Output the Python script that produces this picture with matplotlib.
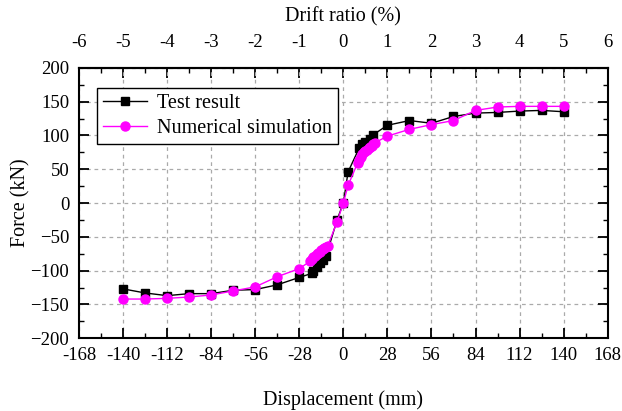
import matplotlib
matplotlib.use("Agg")
import matplotlib.pyplot as plt
from matplotlib.ticker import MultipleLocator

plt.rcParams['font.family'] = ['Liberation Serif', 'DejaVu Serif']

## DATA
test_disp  = [-140, -126, -112, -98, -84, -70, -56, -42, -28, -20, -19, -17, -15, -13, -11,
              -4, 0, 3, 10, 12, 14, 17, 19, 28, 42, 56, 70, 84, 98, 112, 126, 140]
test_force = [-127, -133, -137, -134, -134, -129, -128, -121, -110, -104, -100, -94, -88, -84, -79,
              -25, 0, 46, 81, 87, 90, 95, 101, 115, 122, 118, 128, 133, 134, 136, 137, 135]

sim_disp  = [-140, -126, -112, -98, -84, -70, -56, -42, -28, -21, -20, -19, -18, -17, -16, -15,
             -14, -13, -12, -11, -10, -4, 0, 3, 9, 10, 11, 12, 13, 14, 15, 16, 17, 18, 19, 20,
             28, 42, 56, 70, 84, 98, 112, 126, 140]
sim_force = [-142, -142, -141, -139, -136, -130, -124, -109, -97, -86, -83, -80, -78, -76, -74, -72,
             -70, -68, -67, -65, -64, -28, 0, 26, 59, 64, 68, 72, 75, 77, 79, 81, 83, 85, 87, 89,
             99, 109, 116, 122, 137, 142, 143, 143, 143]

x_ticks     = [-168, -140, -112, -84, -56, -28, 0, 28, 56, 84, 112, 140, 168]
drift_ticks = [-6, -5, -4, -3, -2, -1, 0, 1, 2, 3, 4, 5, 6]
y_ticks     = [-200, -150, -100, -50, 0, 50, 100, 150, 200]

MM_PER_PERCENT = 28

fig = plt.figure(figsize=(6.22, 4.11), dpi=100)
ax = fig.add_axes([0.127, 0.177, 0.850, 0.658])

ax.plot(test_disp, test_force, color="black", marker="s", markersize=5.5,
        linewidth=1.0, label="Test result", zorder=3)
ax.plot(sim_disp, sim_force, color="#ff00ff", marker="o", markersize=6.5,
        linewidth=1.0, label="Numerical simulation", zorder=4)

ax.set_xlim(-168, 168)
ax.set_ylim(-200, 200)
ax.set_xticks(x_ticks)
ax.set_yticks(y_ticks)
ax.set_xticklabels([str(t) for t in x_ticks])
ax.xaxis.set_minor_locator(MultipleLocator(14))
ax.yaxis.set_minor_locator(MultipleLocator(25))
ax.grid(True, which="major", linestyle=(0, (3, 3)), color="#aaaaaa", linewidth=0.9)

ax.tick_params(which="major", direction="in", length=7, width=1.3, labelsize=13.5,
               top=False, right=True)
ax.tick_params(axis="x", which="major", pad=6)
ax.tick_params(axis="y", which="major", pad=7)
ax.tick_params(which="minor", direction="in", length=3.5, width=1.0, top=False, right=True)
for s in ax.spines.values():
    s.set_linewidth(1.5)

ax.set_xlabel("Displacement (mm)", fontsize=14.5, labelpad=19)
ax.set_ylabel("Force (kN)", fontsize=14.5, labelpad=0)

# top axis: drift ratio
top = ax.secondary_xaxis("top", functions=(lambda d: d / MM_PER_PERCENT,
                                           lambda r: r * MM_PER_PERCENT))
top.set_xticks(drift_ticks)
top.set_xticklabels([str(t) for t in drift_ticks])
top.xaxis.set_minor_locator(MultipleLocator(0.5))
top.tick_params(which="major", direction="in", length=7, width=1.3, labelsize=13.5, pad=12)
top.tick_params(which="minor", direction="in", length=3.5, width=1.0)
top.spines["top"].set_linewidth(1.5)
top.set_xlabel("Drift ratio (%)", fontsize=14.5, labelpad=9)

leg = ax.legend(loc="upper left", bbox_to_anchor=(0.034, 0.926), borderaxespad=0,
                fontsize=14.5, frameon=True, fancybox=False, edgecolor="black", framealpha=1,
                handlelength=2.2, borderpad=0.3, labelspacing=0.3, handletextpad=0.5)
leg.get_frame().set_linewidth(1.0)

fig.savefig("out.png", dpi=100)
